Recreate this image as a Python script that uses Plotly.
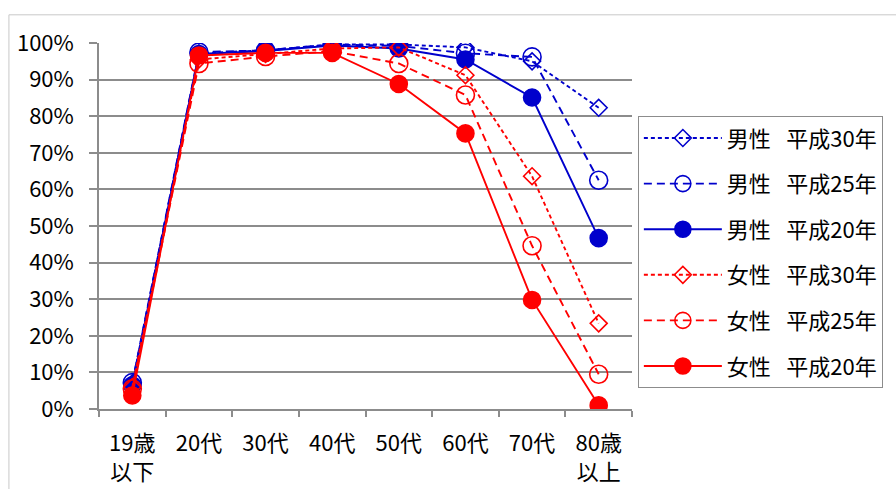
import plotly.graph_objects as go

categories = ["19歳<br>以下", "20代", "30代", "40代", "50代", "60代", "70代", "80歳<br>以上"]

men_h30 = [0.070, 0.972, 0.980, 0.996, 0.996, 0.988, 0.950, 0.823]
men_h25 = [0.072, 0.975, 0.980, 0.996, 0.992, 0.972, 0.962, 0.625]
men_h20 = [0.065, 0.970, 0.978, 0.993, 0.985, 0.955, 0.851, 0.467]
women_h30 = [0.060, 0.955, 0.970, 0.985, 0.988, 0.912, 0.636, 0.234]
women_h25 = [0.055, 0.944, 0.963, 0.978, 0.944, 0.858, 0.446, 0.095]
women_h20 = [0.037, 0.966, 0.973, 0.973, 0.888, 0.753, 0.298, 0.010]

SP = "\u2002\u2009"
series_names = ["男性" + SP + "平成30年", "男性" + SP + "平成25年", "男性" + SP + "平成20年",
                "女性" + SP + "平成30年", "女性" + SP + "平成25年", "女性" + SP + "平成20年"]
series_values = [men_h30, men_h25, men_h20, women_h30, women_h25, women_h20]

BLUE = "#0000CC"
RED = "#FF0000"
FONT = "Noto Sans CJK JP"

styles = [
    dict(color=BLUE, dash="4px,3px", symbol="diamond-open", size=13),
    dict(color=BLUE, dash="8px,5px", symbol="circle-open", size=18),
    dict(color=BLUE, dash="solid", symbol="circle", size=17),
    dict(color=RED, dash="4px,3px", symbol="diamond-open", size=13),
    dict(color=RED, dash="8px,5px", symbol="circle-open", size=18),
    dict(color=RED, dash="solid", symbol="circle", size=17),
]

fig = go.Figure()
for i, (name, vals, st) in enumerate(zip(series_names, series_values, styles)):
    fig.add_trace(go.Scatter(
        x=categories, y=vals, name=name, mode="lines+markers",
        legendgroup=f"g{i}",
        line=dict(color=st["color"], width=1.9, dash=st["dash"]),
        marker=dict(symbol=st["symbol"], size=st["size"], color=st["color"],
                    line=dict(color=st["color"], width=1.6)),
    ))

GRID = "#8c8c8c"
fig.update_layout(
    width=896, height=489,
    margin=dict(l=99, r=264, t=43, b=80, autoexpand=False),
    paper_bgcolor="white", plot_bgcolor="white",
    font=dict(family=FONT, size=22, color="black"),
    showlegend=True,
    legend=dict(
        x=1.011, xanchor="left", y=0.80, yanchor="top",
        bordercolor=GRID, borderwidth=1,
        font=dict(family=FONT, size=22, color="black"),
        traceorder="grouped", tracegroupgap=14,
        itemwidth=78,
    ),
    shapes=[dict(type="rect", xref="paper", yref="paper",
                 x0=-0.169, x1=1.7, y0=-0.6, y1=1.077,
                 line=dict(color="#c8c8c8", width=1), layer="below")],
)
fig.update_yaxes(
    range=[0, 1], tickvals=[i / 10 for i in range(11)], tickformat=".0%",
    showgrid=True, gridcolor=GRID, gridwidth=1.5,
    showline=True, linecolor=GRID, linewidth=1.5,
    ticks="outside", ticklen=8, tickcolor=GRID, tickwidth=1.5,
    zeroline=False, ticklabelstandoff=11, automargin=False,
    tickfont=dict(family=FONT, size=22, color="black"),
)
fig.update_xaxes(
    type="category", showgrid=False,
    showline=True, linecolor=GRID, linewidth=1.5,
    ticks="outside", ticklen=6, tickcolor=GRID, tickwidth=1.5,
    tickson="boundaries", range=[-0.5, 7.5], automargin=False,
    tickfont=dict(family=FONT, size=22, color="black"),
    ticklabelstandoff=14,
)
fig.write_html("out.html")
